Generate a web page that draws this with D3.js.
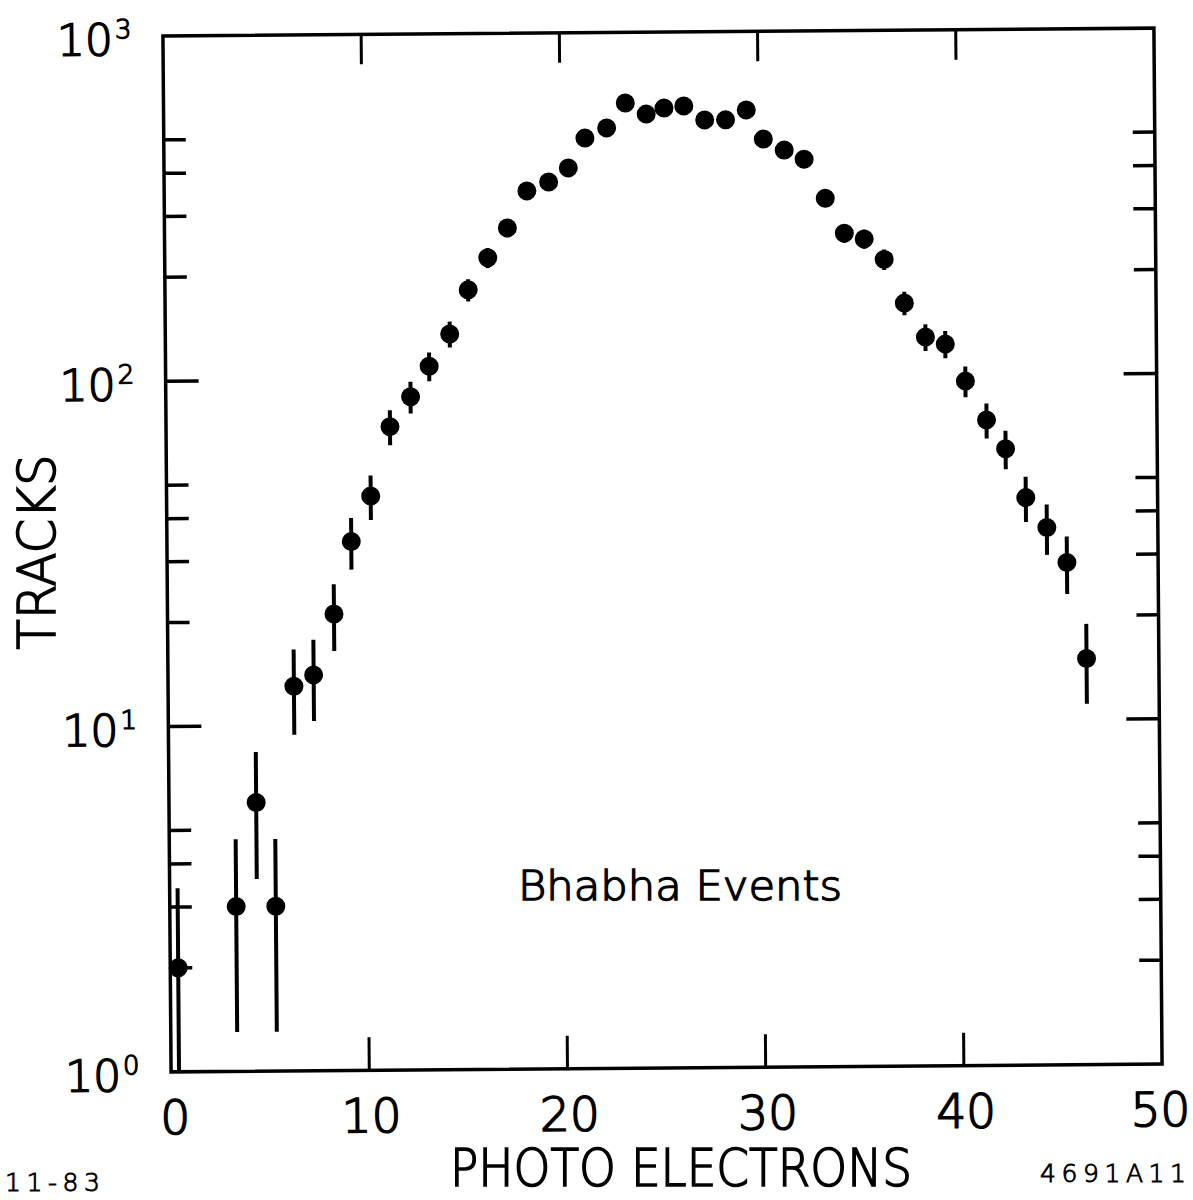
<!DOCTYPE html>
<html>
<head>
<meta charset="utf-8">
<script src="https://cdn.jsdelivr.net/npm/d3@7"></script>
<style>
  body { margin: 0; background: #fff; }
  svg { display: block; }
  text { font-family: "DejaVu Sans", "Liberation Sans", sans-serif; fill: #000; font-weight: 200; stroke: #000; }
</style>
</head>
<body>
<div id="viz"></div>
<script>
// photo electron bins (points sit a bit right of the integer)
var photoElectrons = [0.4, 3.35, 4.4, 5.35, 6.35, 7.35, 8.4, 9.3, 10.3, 11.3, 12.35, 13.3, 14.35, 15.3,
  16.3, 17.3, 18.3, 19.4, 20.4, 21.25, 22.35, 23.3, 24.35, 25.25, 26.25, 27.3, 28.35, 29.4, 30.25,
  31.3, 32.3, 33.35, 34.3, 35.3, 36.3, 37.3, 38.35, 39.35, 40.35, 41.4, 42.35, 43.35, 44.4, 45.4, 46.35];
var tracks = [2, 3, 6, 3, 13, 14, 21, 34, 46, 73, 89, 109, 135, 181,
  224, 273, 349, 370, 406, 495, 529, 624, 579, 602, 610, 555, 555, 592, 487,
  452, 425, 327, 259, 249, 217, 162, 129, 123, 96, 74, 61, 44, 36, 28.5, 15];
var trackErr = [1.4, 1.7, 2.4, 1.7, 3.6, 3.7, 4.6, 5.8, 6.8, 8.5, 9.4, 10.4, 11.6, 13.4,
  15, 16.5, 18.7, 19.2, 20, 22, 23, 25, 24, 24.5, 24.7, 23.6, 23.6, 24.3, 22,
  21, 20.6, 18, 16, 15.8, 14.7, 12.7, 11.4, 11.1, 9.8, 8.6, 7.8, 6.6, 6, 5.4, 3.9];

var xTicks = [0, 10, 20, 30, 40, 50];
var yMajor = [1, 10, 100, 1000];
var yExp = ["0", "1", "2", "3"];
var yMinor = [2, 3, 4, 5, 20, 30, 40, 50, 200, 300, 400, 500];

var W = 1193, H = 1200;
var frame = {left: 167, right: 1158, top: 32, bottom: 1068};
var tilt = -0.45; // the scan is slightly rotated

var x = d3.scaleLinear().domain([0, 50]).range([frame.left, frame.right]);
var y = d3.scaleLog().domain([1, 1000]).range([frame.bottom, frame.top]);

var svg = d3.select("#viz").append("svg")
    .attr("width", W)
    .attr("height", H);

var cx = (frame.left + frame.right) / 2, cy = (frame.top + frame.bottom) / 2;
var g = svg.append("g")
    .attr("transform", "rotate(" + tilt + "," + cx + "," + cy + ")");

// frame
g.append("rect")
    .attr("x", frame.left).attr("y", frame.top)
    .attr("width", frame.right - frame.left)
    .attr("height", frame.bottom - frame.top)
    .attr("fill", "none")
    .attr("stroke", "#000")
    .attr("stroke-width", 3.5);

// x ticks top and bottom
var inner = xTicks.filter(function(d) { return d > 0 && d < 50; });
g.selectAll(".xtb").data(inner).enter().append("line")
    .attr("x1", x).attr("x2", x)
    .attr("y1", frame.bottom).attr("y2", frame.bottom - 33)
    .attr("stroke", "#000").attr("stroke-width", 3);
g.selectAll(".xtt").data(inner).enter().append("line")
    .attr("x1", x).attr("x2", x)
    .attr("y1", frame.top).attr("y2", frame.top + 30)
    .attr("stroke", "#000").attr("stroke-width", 3);

// y ticks left and right
var yMid = yMajor.filter(function(d) { return d > 1 && d < 1000; });
[[frame.left, 1], [frame.right, -1]].forEach(function(side) {
  g.selectAll(null).data(yMid).enter().append("line")
      .attr("x1", side[0]).attr("x2", side[0] + side[1] * 33)
      .attr("y1", y).attr("y2", y)
      .attr("stroke", "#000").attr("stroke-width", 3.5);
  g.selectAll(null).data(yMinor).enter().append("line")
      .attr("x1", side[0]).attr("x2", side[0] + side[1] * 22)
      .attr("y1", y).attr("y2", y)
      .attr("stroke", "#000").attr("stroke-width", 3.5);
});

// x tick labels
g.selectAll(".xl").data(xTicks).enter().append("text")
    .attr("x", function(d) { return x(d) + (d === 0 ? 4 : (d === 50 ? -2 : 2)); })
    .attr("y", frame.bottom + 62)
    .attr("text-anchor", "middle")
    .attr("stroke-width", 1.6)
    .style("font-size", "47px")
    .text(function(d) { return d; });

// y tick labels 10^n
g.selectAll(".yl").data(yMajor).enter().append("text")
    .attr("x", frame.left - 50)
    .attr("y", function(d) { return y(d) + 19; })
    .attr("text-anchor", "end")
    .attr("stroke-width", 1.6)
    .style("font-size", "44px")
    .text("10");
g.selectAll(".ye").data(yMajor).enter().append("text")
    .attr("x", frame.left - 48)
    .attr("y", function(d) { return y(d) + 2; })
    .attr("stroke-width", 1.3)
    .style("font-size", "26px")
    .text(function(d, i) { return yExp[i]; });

// error bars
var pts = photoElectrons.map(function(d, i) { return {pe: d, n: tracks[i], e: trackErr[i]}; });
g.selectAll(".err").data(pts).enter().append("line")
    .attr("x1", function(d) { return x(d.pe); })
    .attr("x2", function(d) { return x(d.pe); })
    .attr("y1", function(d) { return y(d.n + d.e); })
    .attr("y2", function(d) { return d.n - d.e > 1 ? y(d.n - d.e) : frame.bottom; })
    .attr("stroke", "#000")
    .attr("stroke-width", 4);

// points
g.selectAll(".pt").data(pts).enter().append("circle")
    .attr("cx", function(d) { return x(d.pe); })
    .attr("cy", function(d) { return y(d.n); })
    .attr("r", 9.5)
    .attr("fill", "#000");

// titles and annotations
svg.append("text")
    .attr("x", 681).attr("y", 1186)
    .attr("text-anchor", "middle")
    .attr("textLength", 462).attr("lengthAdjust", "spacingAndGlyphs")
    .attr("stroke-width", 1.6)
    .style("font-size", "52px")
    .text("PHOTO ELECTRONS");

svg.append("text")
    .attr("transform", "translate(55,552) rotate(-90)")
    .attr("text-anchor", "middle")
    .attr("textLength", 195).attr("lengthAdjust", "spacingAndGlyphs")
    .attr("stroke-width", 1.6)
    .style("font-size", "51px")
    .text("TRACKS");

svg.append("text")
    .attr("x", 518).attr("y", 900)
    .attr("textLength", 324).attr("lengthAdjust", "spacingAndGlyphs")
    .attr("stroke-width", 1.4)
    .style("font-size", "41px")
    .text("Bhabha Events");

svg.append("text")
    .attr("x", 5).attr("y", 1191)
    .attr("textLength", 95).attr("lengthAdjust", "spacing")
    .attr("stroke-width", 0.9)
    .style("font-size", "25px")
    .text("11-83");

svg.append("text")
    .attr("x", 1040).attr("y", 1182)
    .attr("textLength", 146).attr("lengthAdjust", "spacing")
    .attr("stroke-width", 0.9)
    .style("font-size", "25px")
    .text("4691A11");
</script>
</body>
</html>
